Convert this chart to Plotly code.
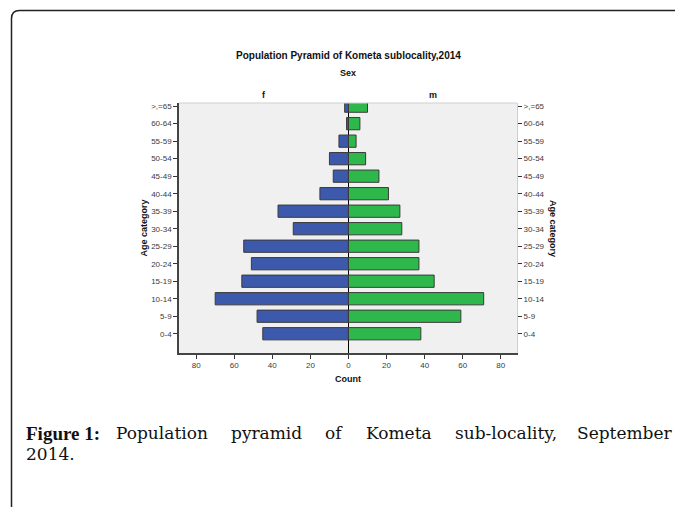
import plotly.graph_objects as go

age_groups = ["0-4", "5-9", "10-14", "15-19", "20-24", "25-29", "30-34",
              "35-39", "40-44", "45-49", "50-54", "55-59", "60-64", ">,=65"]
female = [45, 48, 70, 56, 51, 55, 29, 37, 15, 8, 10, 5, 1, 2]
male = [38, 59, 71, 45, 37, 37, 28, 27, 21, 16, 9, 4, 6, 10]
x_ticks = [-80, -60, -40, -20, 0, 20, 40, 60, 80]
x_tick_labels = ["80", "60", "40", "20", "0", "20", "40", "60", "80"]
caption_label = "<b>Figure 1:</b>"
caption_words = ["Population", "pyramid", "of", "Kometa", "sub-locality,", "September"]
caption_line2 = "2014."

OFF = 8  # page body margin
W, H = 683 - OFF, 507 - OFF
# plot area in page pixel coordinates
L, R, T, B = 179, 517, 103, 353
PW, PH = R - L, B - T


def px(x):
    return (x - L) / PW


def py(y):
    return (B - y) / PH


BLUE = "#3d59ab"
GREEN = "#2eb84c"
EDGE = "#3a3a3a"

fig = go.Figure()
fig.add_trace(go.Bar(
    y=age_groups, x=[-v for v in female], orientation="h", name="f",
    marker=dict(color=BLUE, line=dict(color=EDGE, width=1)),
    width=0.7, yaxis="y", hoverinfo="skip"))
fig.add_trace(go.Bar(
    y=age_groups, x=male, orientation="h", name="m",
    marker=dict(color=GREEN, line=dict(color=EDGE, width=1)),
    width=0.7, yaxis="y2", hoverinfo="skip"))

tickfont = dict(family="Liberation Sans, Arial, sans-serif", size=8, color="#3a3a3a")
yrange = [-1.1, 13.18]

fig.update_layout(
    width=W, height=H,
    margin=dict(l=L - OFF, r=W - (R - OFF), t=T - OFF, b=H - (B - OFF), pad=0),
    paper_bgcolor="white", plot_bgcolor="#f0f0f0",
    barmode="overlay", showlegend=False,
    font=dict(family="Liberation Sans, Arial, sans-serif", color="#111111"),
    xaxis=dict(range=[-89, 88.5], tickvals=x_ticks, ticktext=x_tick_labels,
               showgrid=False, zeroline=True, zerolinecolor="#000000", zerolinewidth=1,
               ticks="outside", ticklen=4, tickcolor="#333333", tickfont=tickfont,
               showline=True, linecolor="#444444", linewidth=1.5, mirror=False,
               fixedrange=True),
    yaxis=dict(type="category", categoryorder="array", categoryarray=age_groups,
               range=yrange, showgrid=False, ticks="outside", ticklen=4,
               tickcolor="#333333", tickfont=tickfont, showline=True,
               linecolor="#444444", linewidth=1.5, side="left", fixedrange=True),
    yaxis2=dict(type="category", categoryorder="array", categoryarray=age_groups,
                range=yrange, overlaying="y", side="right", showgrid=False,
                ticks="outside", ticklen=4, tickcolor="#333333", tickfont=tickfont,
                showline=True, linecolor="#cfcfcf", linewidth=1, matches="y",
                fixedrange=True),
)

# top border of plot area (light)
fig.add_shape(type="line", xref="paper", yref="paper", x0=0, x1=1, y0=1, y1=1,
              line=dict(color="#cfcfcf", width=1))

# outer frame with rounded top-left corner
fx, fy = px(11.5), py(10.5)
rx, ry = 8 / PW, 8 / PH
fig.add_shape(type="path", xref="paper", yref="paper",
              path=(f"M {fx},{py(520)} L {fx},{fy - ry} "
                    f"Q {fx},{fy} {fx + rx},{fy} L {px(700)},{fy}"),
              line=dict(color="#222222", width=1.5))

bold = "Liberation Sans, Arial, sans-serif"
anns = [
    dict(text="<b>Population Pyramid of Kometa sublocality,2014</b>", x=px(348), y=py(55), size=10),
    dict(text="<b>Sex</b>", x=px(348), y=py(73), size=9),
    dict(text="<b>f</b>", x=px(263.5), y=py(94.5), size=9),
    dict(text="<b>m</b>", x=px(432.5), y=py(94.5), size=9),
    dict(text="<b>Count</b>", x=px(348), y=py(379), size=9),
]
for a in anns:
    fig.add_annotation(text=a["text"], x=a["x"], y=a["y"], xref="paper", yref="paper",
                       showarrow=False, xanchor="center", yanchor="middle",
                       font=dict(family=bold, size=a["size"], color="#111111"))

fig.add_annotation(text="<b>Age category</b>", x=px(143.5), y=py(228), xref="paper",
                   yref="paper", showarrow=False, textangle=-90, xanchor="center",
                   yanchor="middle", font=dict(family=bold, size=9, color="#111111"))
fig.add_annotation(text="<b>Age category</b>", x=px(553), y=py(228), xref="paper",
                   yref="paper", showarrow=False, textangle=90, xanchor="center",
                   yanchor="middle", font=dict(family=bold, size=9, color="#111111"))

serif = "DejaVu Serif, Liberation Serif, serif"
cap_y = py(433)
fig.add_annotation(text=caption_label, x=px(24), y=cap_y, xref="paper", yref="paper",
                   showarrow=False, xanchor="left", yanchor="middle",
                   font=dict(family="Liberation Serif, serif", size=19, color="#111111"))
# justified first line: word centres
word_cx = [162, 266, 333.5, 399, 506, None]
for cx, word in zip(word_cx, caption_words):
    if cx is None:
        fig.add_annotation(text=word, x=px(675), y=cap_y, xref="paper", yref="paper",
                           showarrow=False, xanchor="right", yanchor="middle",
                           font=dict(family=serif, size=17, color="#111111"))
    else:
        fig.add_annotation(text=word, x=px(cx), y=cap_y, xref="paper", yref="paper",
                           showarrow=False, xanchor="center", yanchor="middle",
                           font=dict(family=serif, size=17, color="#111111"))
fig.add_annotation(text=caption_line2, x=px(24), y=py(454), xref="paper", yref="paper",
                   showarrow=False, xanchor="left", yanchor="middle",
                   font=dict(family=serif, size=17, color="#111111"))

fig.write_html("out.html")
